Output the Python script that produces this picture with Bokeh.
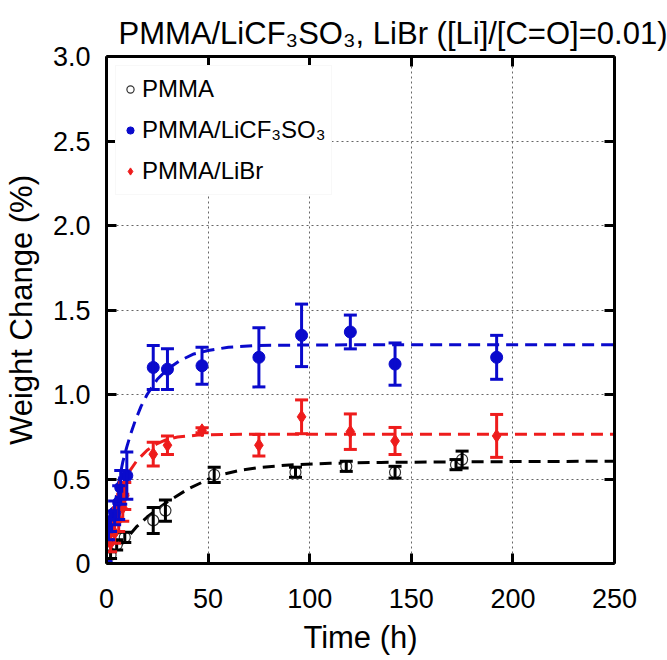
from bokeh.plotting import figure
from bokeh.models import (ColumnDataSource, Whisker, TeeHead, FixedTicker, LinearAxis,
                          Range1d, Legend, LegendItem, NumeralTickFormatter)
from bokeh.embed import file_html
from bokeh.resources import INLINE

# ---------------- data ----------------
t_pmma = [0, 2, 5, 9, 23, 29, 53, 93, 118, 142, 172, 175]
w_pmma = [0.0, 0.05, 0.11, 0.155, 0.255, 0.313, 0.525, 0.54, 0.575, 0.54, 0.585, 0.615]
e_pmma = [0.0, 0.02, 0.03, 0.03, 0.077, 0.063, 0.045, 0.03, 0.03, 0.035, 0.03, 0.05]

t_cf3 = [0, 1, 2, 4, 6, 7, 10, 23, 30, 47, 75, 96, 120, 142, 192]
w_cf3 = [0.0, 0.2, 0.25, 0.3, 0.36, 0.45, 0.52, 1.16, 1.15, 1.17, 1.22, 1.35, 1.37, 1.18, 1.22]
e_cf3 = [0.0, 0.06, 0.06, 0.07, 0.1, 0.1, 0.14, 0.13, 0.12, 0.11, 0.175, 0.185, 0.1, 0.125, 0.13]

t_libr = [0, 2, 4, 6, 8, 9, 23, 30, 47, 75, 96, 120, 142, 192]
w_libr = [0.0, 0.12, 0.18, 0.26, 0.33, 0.4, 0.647, 0.70, 0.788, 0.70, 0.868, 0.78, 0.725, 0.755]
e_libr = [0.0, 0.05, 0.06, 0.07, 0.08, 0.08, 0.07, 0.055, 0.015, 0.064, 0.1, 0.105, 0.08, 0.127]

# fitted (dashed) curves
fit_t_pmma = [0, 5, 10, 15, 20, 25, 30, 40, 53, 65, 75, 90, 110, 135, 175, 250]
fit_w_pmma = [0, 0.08, 0.15, 0.22, 0.275, 0.32, 0.365, 0.44, 0.515, 0.55, 0.568, 0.583, 0.593, 0.598, 0.602, 0.605]

fit_t_cf3 = [0, 2, 4, 6, 8, 10, 12, 14, 17, 20, 25, 30, 36, 43, 50, 60, 75, 100, 150, 250]
fit_w_cf3 = [0, 0.18, 0.34, 0.48, 0.6, 0.69, 0.77, 0.84, 0.93, 1.0, 1.09, 1.15, 1.2, 1.24, 1.26, 1.28, 1.29, 1.293, 1.295, 1.295]

fit_t_libr = [0, 1, 2, 4, 6, 8, 11, 15, 20, 25, 30, 35, 45, 60, 100, 250]
fit_w_libr = [0, 0.08, 0.15, 0.27, 0.37, 0.45, 0.54, 0.61, 0.67, 0.71, 0.735, 0.748, 0.76, 0.764, 0.765, 0.765]

x_ticks = [0, 50, 100, 150, 200, 250]
y_ticks = [0, 0.5, 1.0, 1.5, 2.0, 2.5, 3.0]

title_text = "PMMA/LiCF\u2083SO\u2083, LiBr ([Li]/[C=O]=0.01)"
labels = ["PMMA", "PMMA/LiCF\u2083SO\u2083", "PMMA/LiBr"]

FONT = "Liberation Sans"
BLACK, BLUE, RED = "#000000", "#0a0acc", "#ee1c1c"

# ---------------- figure ----------------
p = figure(width=667, height=660, output_backend="svg", toolbar_location=None,
           x_range=Range1d(0, 250), y_range=Range1d(0, 3),
           min_border_left=106, min_border_right=53, min_border_top=56, min_border_bottom=97,
           x_axis_label="Time (h)", y_axis_label="Weight Change (%)")
p.outline_line_color = None
p.background_fill_color = "white"

p.title.text = title_text
p.title.text_font = FONT
p.title.text_font_size = "31px"
p.title.text_font_style = "normal"
p.title.text_color = "black"
p.title.align = "left"
p.title.offset = 12
p.title.standoff = 12

for ax, ticks in ((p.xaxis[0], x_ticks), (p.yaxis[0], y_ticks)):
    ax.ticker = FixedTicker(ticks=ticks)
    ax.axis_line_width = 3
    ax.major_tick_line_width = 3
    ax.major_tick_in = 10
    ax.major_tick_out = 0
    ax.minor_tick_line_color = None
    ax.major_label_text_font = FONT
    ax.major_label_text_font_size = "27px"
    ax.major_label_text_color = "black"
    ax.axis_label_text_font = FONT
    ax.axis_label_text_font_size = "31px"
    ax.axis_label_text_font_style = "normal"
    ax.axis_label_text_color = "black"

p.xaxis[0].major_label_standoff = 25
p.xaxis[0].axis_label_standoff = 9
p.yaxis[0].major_label_standoff = 16
p.yaxis[0].axis_label_standoff = 11
p.yaxis[0].formatter = NumeralTickFormatter(format="0.0")
p.yaxis[0].major_label_overrides = {0: "0"}

for loc, ticks in (("right", y_ticks), ("above", x_ticks)):
    a = LinearAxis(ticker=FixedTicker(ticks=ticks), axis_line_width=3,
                   major_tick_line_width=3, major_tick_in=10, major_tick_out=0,
                   minor_tick_line_color=None, major_label_text_color=None,
                   major_label_text_font_size="1px", major_label_standoff=0)
    p.add_layout(a, loc)

p.xgrid.ticker = FixedTicker(ticks=x_ticks)
p.ygrid.ticker = FixedTicker(ticks=y_ticks)
for g in (p.xgrid[0], p.ygrid[0]):
    g.grid_line_color = "#666666"
    g.grid_line_dash = "2 3"
    g.grid_line_width = 1

# ---------------- fits ----------------
p.line(fit_t_pmma, fit_w_pmma, line_color=BLACK, line_width=3, line_dash="12 7")
p.line(fit_t_cf3, fit_w_cf3, line_color=BLUE, line_width=3, line_dash="12 7")
p.line(fit_t_libr, fit_w_libr, line_color=RED, line_width=3, line_dash="12 7")

# ---------------- error bars ----------------
def add_err(t, w, e, color):
    tt = [a for a, c in zip(t, e) if c > 0]
    lo = [b - c for b, c in zip(w, e) if c > 0]
    hi = [b + c for b, c in zip(w, e) if c > 0]
    src = ColumnDataSource(dict(t=tt, lo=lo, hi=hi))
    wh = Whisker(source=src, base="t", lower="lo", upper="hi",
                 line_color=color, line_width=3, level="glyph",
                 upper_head=TeeHead(size=13, line_color=color, line_width=3),
                 lower_head=TeeHead(size=13, line_color=color, line_width=3))
    p.add_layout(wh)

add_err(t_pmma, w_pmma, e_pmma, BLACK)
add_err(t_libr, w_libr, e_libr, RED)
add_err(t_cf3, w_cf3, e_cf3, BLUE)

# ---------------- markers ----------------
r_black = p.scatter(t_pmma, w_pmma, marker="circle", size=11, fill_color="white",
                    line_color="#333333", line_width=1.2)
r_red = p.scatter(t_libr, w_libr, marker="diamond", size=13, fill_color=RED,
                  line_color=RED)
r_blue = p.scatter(t_cf3, w_cf3, marker="circle", size=12, fill_color=BLUE,
                   line_color=BLUE)

legend = Legend(items=[LegendItem(label=labels[0], renderers=[r_black]),
                       LegendItem(label=labels[1], renderers=[r_blue]),
                       LegendItem(label=labels[2], renderers=[r_red])],
                location="top_left", label_text_font=FONT, label_text_font_size="24px",
                label_text_color="black",
                glyph_width=18, glyph_height=36, label_height=36, spacing=5,
                padding=5, margin=9, label_standoff=3,
                border_line_color="#f2f2f2", background_fill_color="white",
                background_fill_alpha=1.0)
p.add_layout(legend)

open("out.html", "w").write(file_html(p, INLINE))
